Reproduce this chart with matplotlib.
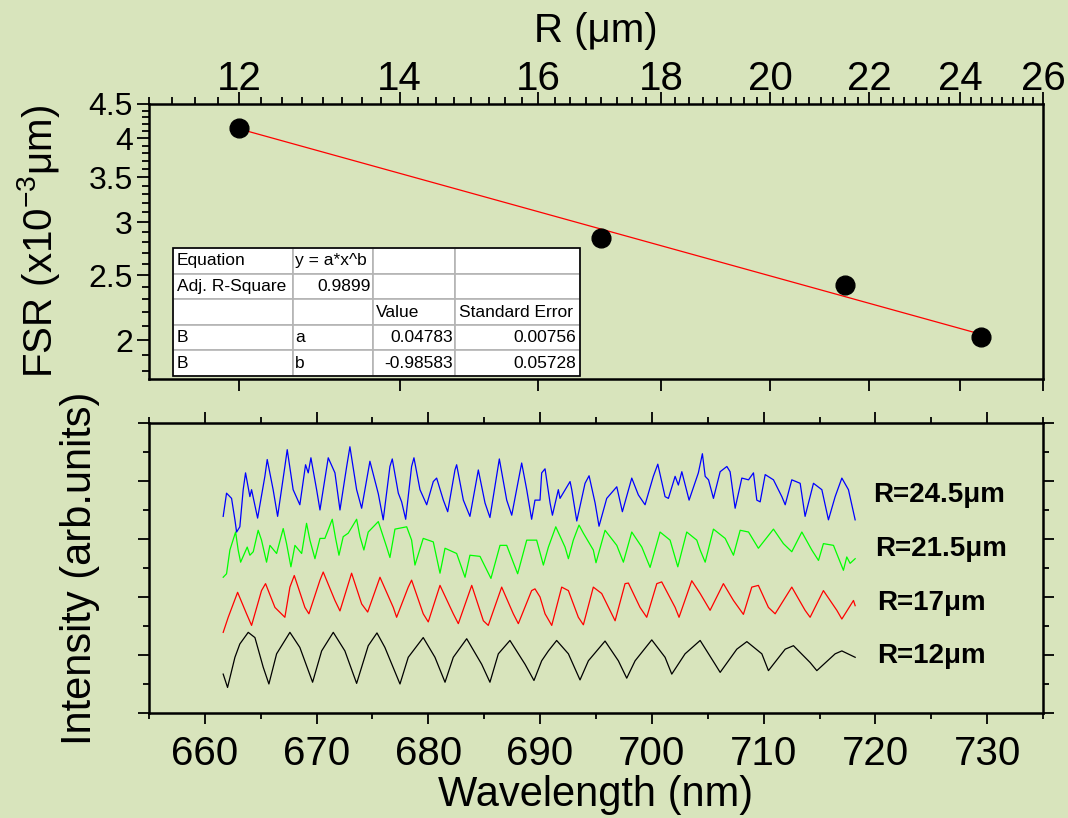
import matplotlib
matplotlib.use("Agg")
import matplotlib.pyplot as plt
from matplotlib.ticker import FixedLocator, MultipleLocator, NullFormatter, FuncFormatter

plt.rcParams['font.family'] = ['Liberation Sans', 'DejaVu Sans']
plt.rcParams['mathtext.default'] = 'regular'

# --- datos del ajuste FSR vs R ---
radio = [12, 17, 21.5, 24.5]
fsr = [4.14, 2.84, 2.42, 2.02]
ajuste_r = [12, 24.5]
ajuste_fsr = [4.13, 2.04]

tabla_texto = [
    ["Equation", "y = a*x^b", "", ""],
    ["Adj. R-Square", "0.9899", "", ""],
    ["", "", "Value", "Standard Error"],
    ["B", "a", "0.04783", "0.00756"],
    ["B", "b", "-0.98583", "0.05728"],
]

# --- espectros (con desplazamiento vertical) ---
negro_wl = [661.64, 662.03, 662.69, 663.13, 663.88, 664.48, 665.22, 665.73, 666.42, 667.61,
            668.50, 669.64, 670.45, 671.49, 672.53, 673.58, 674.62, 675.40, 676.11, 677.46,
            678.20, 679.54, 680.59, 681.49, 682.23, 683.43, 684.77, 685.51, 686.26, 687.30,
            688.65, 689.45, 690.14, 690.74, 691.48, 692.53, 693.57, 694.32, 695.81, 697.00,
            697.75, 698.50, 699.99, 701.18, 701.78, 702.97, 704.32, 705.66, 706.11, 707.60,
            708.50, 709.84, 710.43, 711.93, 712.67, 714.16, 714.76, 716.40, 717.00, 718.19]
negro_y = [0.67, 0.44, 0.96, 1.19, 1.39, 1.30, 0.79, 0.50, 1.02, 1.39,
           1.13, 0.53, 1.07, 1.39, 1.07, 0.51, 1.16, 1.38, 1.13, 0.50,
           0.96, 1.30, 0.96, 0.53, 0.96, 1.28, 0.84, 0.53, 1.02, 1.25,
           0.84, 0.56, 0.90, 1.07, 1.25, 1.02, 0.57, 0.90, 1.24, 0.90,
           0.60, 0.90, 1.26, 0.96, 0.67, 1.02, 1.25, 0.84, 0.70, 1.10,
           1.23, 1.02, 0.73, 1.10, 1.16, 0.87, 0.73, 1.02, 1.07, 0.96]

rojo_wl = [661.64, 662.09, 662.93, 663.73, 664.18, 665.07, 665.43, 666.27, 667.16, 667.61,
           668.00, 668.95, 669.31, 670.30, 670.59, 671.64, 672.09, 673.13, 674.03, 674.57,
           675.67, 676.86, 677.16, 678.20, 678.50, 679.54, 679.99, 681.04, 682.23, 682.68,
           683.88, 684.92, 685.36, 686.56, 687.60, 688.05, 689.24, 689.54, 689.99, 690.44,
           691.04, 691.93, 692.53, 693.42, 693.87, 694.76, 695.51, 696.71, 697.60, 697.90,
           698.94, 699.54, 700.44, 700.88, 702.08, 702.43, 703.57, 704.32, 705.21, 706.40,
           707.30, 708.19, 708.94, 709.53, 710.43, 711.03, 712.52, 713.71, 714.16, 715.35,
           716.55, 717.00, 718.04, 718.19]
rojo_y = [1.39, 1.65, 2.08, 1.71, 1.51, 2.11, 2.23, 1.82, 1.65, 2.17,
          2.37, 1.82, 1.71, 2.29, 2.43, 1.94, 1.76, 2.41, 1.88, 1.74,
          2.34, 1.82, 1.65, 2.17, 2.29, 1.71, 1.57, 2.20, 1.71, 1.54,
          2.20, 1.59, 1.51, 2.17, 1.71, 1.54, 2.11, 2.14, 2.00, 1.71,
          1.51, 2.17, 2.11, 1.65, 1.52, 2.17, 2.06, 1.59, 2.23, 2.24,
          1.82, 1.65, 2.23, 2.26, 1.82, 1.65, 2.28, 2.06, 1.77, 2.23,
          1.94, 1.70, 2.17, 2.20, 1.82, 1.71, 2.17, 1.77, 1.65, 2.11,
          1.77, 1.62, 1.94, 1.85]

verde_wl = [661.64, 661.94, 662.24, 662.75, 662.98, 663.20, 663.79, 664.03, 664.33, 664.77,
            665.07, 665.52, 665.82, 666.42, 667.01, 667.31, 667.70, 668.06, 668.66, 669.10,
            669.40, 669.85, 670.30, 670.74, 671.40, 671.70, 672.00, 672.38, 672.83, 673.58,
            673.88, 674.23, 674.62, 675.52, 676.27, 676.56, 677.01, 678.06, 678.50, 678.80,
            679.54, 680.44, 681.04, 681.49, 682.53, 683.28, 683.72, 684.62, 685.60, 686.41,
            687.01, 687.99, 688.80, 689.69, 690.29, 690.74, 691.40, 692.23, 692.53, 692.97,
            693.48, 693.87, 694.76, 695.00, 695.81, 696.86, 697.45, 698.20, 699.10, 699.84,
            700.73, 701.63, 702.32, 703.12, 704.02, 704.32, 704.77, 705.51, 706.56, 707.30,
            707.90, 708.65, 709.53, 710.88, 711.77, 712.52, 713.42, 714.31, 714.91, 715.35,
            716.25, 717.14, 717.44, 717.74, 718.19]
verde_y = [2.34, 2.40, 2.81, 3.12, 2.81, 2.60, 2.86, 2.72, 2.78, 3.15,
           2.98, 2.60, 2.89, 2.75, 3.18, 2.92, 2.52, 2.89, 2.75, 3.27,
           2.98, 2.66, 3.01, 3.01, 3.34, 3.01, 2.72, 3.04, 3.10, 3.34,
           3.04, 2.81, 3.12, 3.30, 2.86, 2.68, 3.17, 3.21, 2.98, 2.55,
           3.01, 2.95, 2.41, 2.84, 2.75, 2.34, 2.72, 2.70, 2.32, 2.89,
           2.89, 2.40, 2.98, 2.98, 2.55, 2.86, 3.21, 2.86, 2.66, 2.98,
           3.24, 3.10, 2.81, 2.59, 3.15, 2.89, 2.60, 3.12, 2.86, 2.51,
           3.12, 2.98, 2.52, 3.12, 2.98, 2.81, 2.60, 3.17, 3.01, 2.72,
           3.15, 3.12, 2.84, 3.17, 2.92, 2.78, 3.12, 2.81, 2.63, 2.92,
           2.89, 2.46, 2.69, 2.58, 2.66]

azul_wl = [661.64, 661.94, 662.39, 662.69, 662.84, 663.13, 663.43, 663.64, 664.03, 664.18,
           664.72, 665.37, 665.58, 666.11, 666.51, 667.16, 667.37, 667.90, 668.50, 669.01,
           669.25, 669.49, 670.00, 670.30, 671.04, 671.64, 672.09, 672.69, 672.98, 673.58,
           674.03, 674.77, 675.52, 675.96, 676.56, 676.77, 677.31, 677.61, 677.97, 678.50,
           678.71, 679.25, 679.85, 680.44, 680.74, 681.34, 681.73, 682.38, 682.53, 683.13,
           683.72, 684.47, 685.07, 685.51, 686.35, 687.01, 687.46, 688.35, 688.80, 689.24,
           689.54, 689.99, 690.14, 690.44, 690.89, 691.10, 691.63, 691.78, 692.68, 692.83,
           693.28, 694.02, 694.38, 694.92, 695.27, 695.96, 696.86, 697.36, 698.20, 698.79,
           699.39, 700.13, 700.53, 701.18, 701.48, 702.08, 702.37, 702.68, 703.33, 704.16,
           704.52, 704.77, 705.07, 705.51, 706.11, 706.71, 707.00, 707.45, 708.05, 708.65,
           709.09, 709.39, 709.69, 710.14, 710.88, 711.63, 711.93, 712.52, 713.27, 713.71,
           714.46, 715.21, 715.80, 716.40, 717.00, 717.59, 718.19]
azul_y = [3.39, 3.79, 3.70, 3.33, 3.12, 3.21, 3.85, 4.14, 3.73, 3.85,
          3.36, 4.08, 4.37, 3.85, 3.39, 4.25, 4.54, 3.85, 3.59, 4.28,
          4.14, 4.40, 3.85, 3.50, 4.40, 4.14, 3.50, 4.25, 4.59, 3.85,
          3.53, 4.34, 3.78, 3.33, 4.25, 4.38, 3.79, 3.64, 3.34, 4.25,
          4.40, 3.85, 3.59, 3.99, 4.05, 3.67, 3.47, 4.19, 4.28, 3.67,
          3.39, 4.19, 3.62, 3.37, 4.38, 3.67, 3.41, 4.31, 3.85, 3.34,
          3.67, 3.67, 4.14, 4.21, 3.62, 3.41, 3.85, 3.70, 3.99, 3.85,
          3.31, 3.96, 4.09, 3.62, 3.22, 3.70, 3.90, 3.47, 4.05, 3.76,
          3.59, 4.08, 4.29, 3.73, 3.70, 4.08, 3.93, 4.16, 3.67, 4.14,
          4.47, 4.08, 4.02, 3.70, 4.16, 4.25, 4.16, 3.53, 4.05, 4.02,
          4.14, 3.67, 3.64, 4.11, 4.02, 3.73, 3.59, 4.02, 3.96, 3.39,
          3.96, 3.85, 3.33, 3.73, 4.05, 3.85, 3.33]

etiquetas = ["R=24.5μm", "R=21.5μm", "R=17μm", "R=12μm"]
etiq_x = [719.8, 720.0, 720.2, 720.2]
etiq_y = [3.76, 2.82, 1.89, 0.99]

fondo = "#d8e4bc"
fig = plt.figure(figsize=(10.68, 8.18), dpi=100, facecolor=fondo)

# ---------------- panel superior ----------------
ax1 = fig.add_axes([0.1395, 0.5367, 0.8371, 0.3362], facecolor=fondo)
ax1.set_xscale('log')
ax1.set_yscale('log')
ax1.plot(ajuste_r, ajuste_fsr, color='red', lw=0.9, zorder=2)
ax1.plot(radio, fsr, 'o', color='black', ms=13.5, zorder=3)
ax1.set_xlim(11, 26)
ax1.set_ylim(1.75, 4.5)

ax1.xaxis.set_major_locator(FixedLocator([12, 14, 16, 18, 20, 22, 24, 26]))
ax1.xaxis.set_major_formatter(FuncFormatter(lambda v, p: "%g" % v))
ax1.xaxis.set_minor_locator(MultipleLocator(0.25))
ax1.xaxis.set_minor_formatter(NullFormatter())
ax1.yaxis.set_major_locator(FixedLocator([2, 2.5, 3, 3.5, 4, 4.5]))
ax1.yaxis.set_major_formatter(FuncFormatter(lambda v, p: "%g" % v))
ax1.yaxis.set_minor_locator(MultipleLocator(0.1))
ax1.yaxis.set_minor_formatter(NullFormatter())

ax1.tick_params(which='both', direction='out', width=1.3, top=True, bottom=True,
                labeltop=True, labelbottom=False, right=False)
ax1.tick_params(which='major', length=8.5)
ax1.tick_params(which='minor', length=5, bottom=False)
ax1.tick_params(axis='x', labelsize=29, pad=-4)
ax1.tick_params(axis='y', labelsize=23, pad=3)
ax1.xaxis.set_label_position('top')
ax1.set_xlabel("R (μm)", fontsize=29, labelpad=13)
ax1.set_ylabel("FSR (x10$^{-3}$μm)", fontsize=29)
ax1.yaxis.set_label_coords(-0.097, 0.5)
for s in ax1.spines.values():
    s.set_linewidth(1.8)

# tabla del ajuste
anchos = [120 / 407, 80 / 407, 82 / 407, 125 / 407]
tabla = ax1.table(cellText=tabla_texto, colWidths=anchos,
                  bbox=[0.0268, 0.011, 0.4553, 0.465], zorder=4)
tabla.auto_set_font_size(False)
tabla.set_fontsize(12.5)
derecha = [(1, 1), (3, 2), (3, 3), (4, 2), (4, 3)]
for (f, c), celda in tabla.get_celld().items():
    celda.set_facecolor('white')
    celda.set_edgecolor('#b4b4b4')
    celda.set_linewidth(1.2)
    celda.PAD = 0.03
    if (f, c) in derecha:
        celda._loc = 'right'
        celda.get_text().set_ha('right')
    else:
        celda._loc = 'left'
        celda.get_text().set_ha('left')
ax1.add_patch(plt.Rectangle((0.0268, 0.011), 0.4553, 0.465, transform=ax1.transAxes,
                            fill=False, edgecolor='black', lw=1.2, zorder=5))

# ---------------- panel inferior ----------------
ax2 = fig.add_axes([0.1395, 0.1284, 0.8371, 0.3545], facecolor=fondo)
ax2.plot(negro_wl, negro_y, color='black', lw=0.9)
ax2.plot(rojo_wl, rojo_y, color='red', lw=0.9)
ax2.plot(verde_wl, verde_y, color='#00ff00', lw=0.9)
ax2.plot(azul_wl, azul_y, color='blue', lw=0.9)
for t, x, y in zip(etiquetas, etiq_x, etiq_y):
    ax2.text(x, y, t, fontsize=20, fontweight='bold', va='center', ha='left')

ax2.set_xlim(655, 735)
ax2.set_ylim(0, 5)
ax2.xaxis.set_major_locator(MultipleLocator(10))
ax2.xaxis.set_minor_locator(MultipleLocator(5))
ax2.yaxis.set_major_locator(MultipleLocator(1))
ax2.yaxis.set_minor_locator(MultipleLocator(0.5))
ax2.tick_params(which='both', direction='out', width=1.3, left=True, right=True,
                top=True, bottom=True, labelleft=False)
ax2.tick_params(which='major', length=8)
ax2.tick_params(which='minor', length=4)
ax2.tick_params(axis='x', labelsize=29, pad=8)
ax2.set_xlabel("Wavelength (nm)", fontsize=30, labelpad=1)
ax2.set_ylabel("Intensity (arb.units)", fontsize=30)
ax2.yaxis.set_label_coords(-0.055, 0.5)
for s in ax2.spines.values():
    s.set_linewidth(1.8)

fig.savefig("out.png", dpi=100, facecolor=fondo)
